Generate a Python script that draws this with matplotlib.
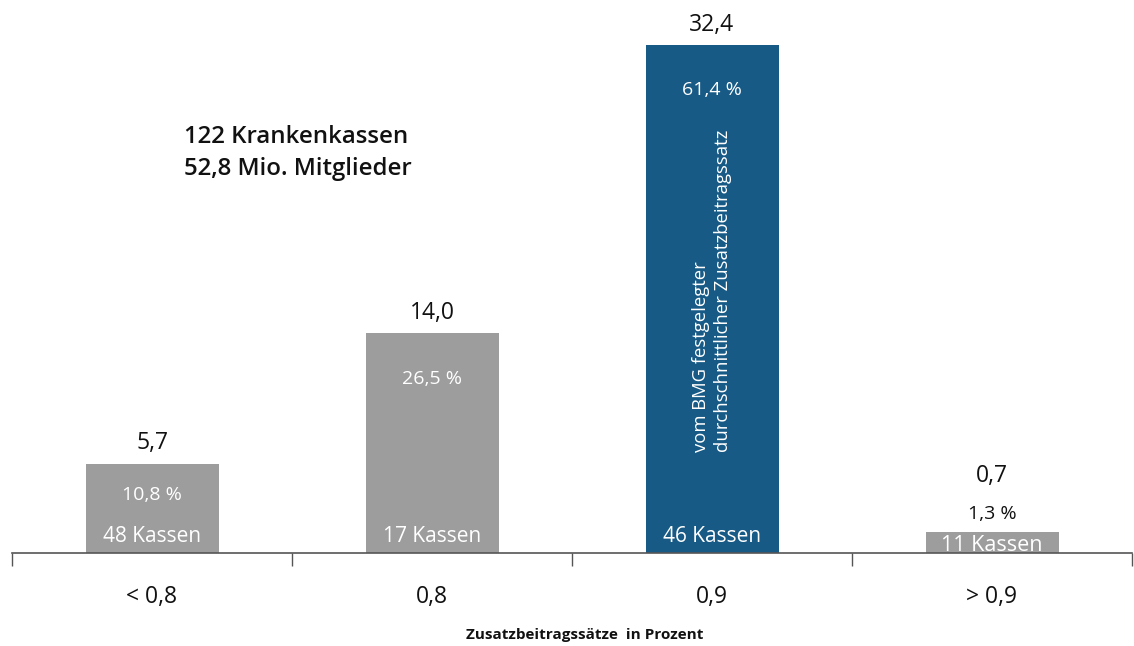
import matplotlib.pyplot as plt
import numpy as np

plt.rcParams['font.family'] = ['Open Sans', 'DejaVu Sans']

categories = ['< 0,8', '0,8', '0,9', '> 0,9']
members_mio = [5.7, 14.0, 32.4, 0.7]
value_labels = ['5,7', '14,0', '32,4', '0,7']
share_labels = ['10,8 %', '26,5 %', '61,4 %', '1,3 %']
kassen = [48, 17, 46, 11]
bar_colors = ['#9d9d9d', '#9d9d9d', '#175a86', '#9d9d9d']

GRAY_AXIS = '#555555'

fig = plt.figure(figsize=(11.34, 6.46), dpi=100)
ax = fig.add_axes([12 / 1134, 93 / 646, 1120 / 1134, 553 / 646])

x = np.arange(len(categories))
# very small bars get a minimum visible height so the label fits
shown = [max(v, 1.35) for v in members_mio]
ax.bar(x, shown, width=0.475, color=bar_colors, zorder=2)

ax.set_xlim(-0.5, len(categories) - 0.5)
ax.set_ylim(0, 35.27)

for i, v in enumerate(shown):
    small = v < 3
    if small:
        ax.annotate(share_labels[i], (x[i], v), xytext=(0, 13), textcoords='offset points',
                    ha='center', va='center', fontsize=14, color='#111111')
        ax.annotate(value_labels[i], (x[i], v), xytext=(0, 40), textcoords='offset points',
                    ha='center', va='center', fontsize=16.5, color='#111111')
        ax.annotate(f'{kassen[i]} Kassen', (x[i], 0), xytext=(0, 5.5), textcoords='offset points',
                    ha='center', va='center', fontsize=15.5, color='white')
    else:
        ax.annotate(value_labels[i], (x[i], v), xytext=(0, 14.5), textcoords='offset points',
                    ha='center', va='center', fontsize=16.5, color='#111111')
        off = -22.5 if v < 8 else -32.5
        ax.annotate(share_labels[i], (x[i], v), xytext=(0, off), textcoords='offset points',
                    ha='center', va='center', fontsize=14, color='white')
        ax.annotate(f'{kassen[i]} Kassen', (x[i], 0), xytext=(0, 12), textcoords='offset points',
                    ha='center', va='center', fontsize=15, color='white')

ax.annotate('vom BMG festgelegter\ndurchschnittlicher Zusatzbeitragssatz', (x[2], 0),
            xytext=(0, 73), textcoords='offset points', rotation=90,
            ha='center', va='bottom', fontsize=13.3, color='white', linespacing=1.3,
            multialignment='left')

ax.text(0.154, 0.723, '122 Krankenkassen\n52,8 Mio. Mitglieder', transform=ax.transAxes,
        ha='left', va='center', fontsize=17.3, fontweight='semibold', color='#111111',
        linespacing=1.42)

for s in ['top', 'right', 'left']:
    ax.spines[s].set_visible(False)
ax.spines['bottom'].set_color(GRAY_AXIS)
ax.spines['bottom'].set_linewidth(1.2)
ax.set_yticks([])

ax.set_xticks(np.arange(-0.5, len(categories)), minor=False)
ax.set_xticklabels([])
ax.tick_params(axis='x', length=9, width=1, color=GRAY_AXIS, direction='out')
for i, c in enumerate(categories):
    ax.annotate(c, (x[i], 0), xytext=(0, -32), textcoords='offset points',
                ha='center', va='center', fontsize=16.5, color='#111111', annotation_clip=False)

fig.text(585 / 1134, 1 - 635 / 646, 'Zusatzbeitragssätze  in Prozent', ha='center', va='center',
         fontsize=11, fontweight='bold', color='#111111')

fig.savefig('out.png', dpi=100)
